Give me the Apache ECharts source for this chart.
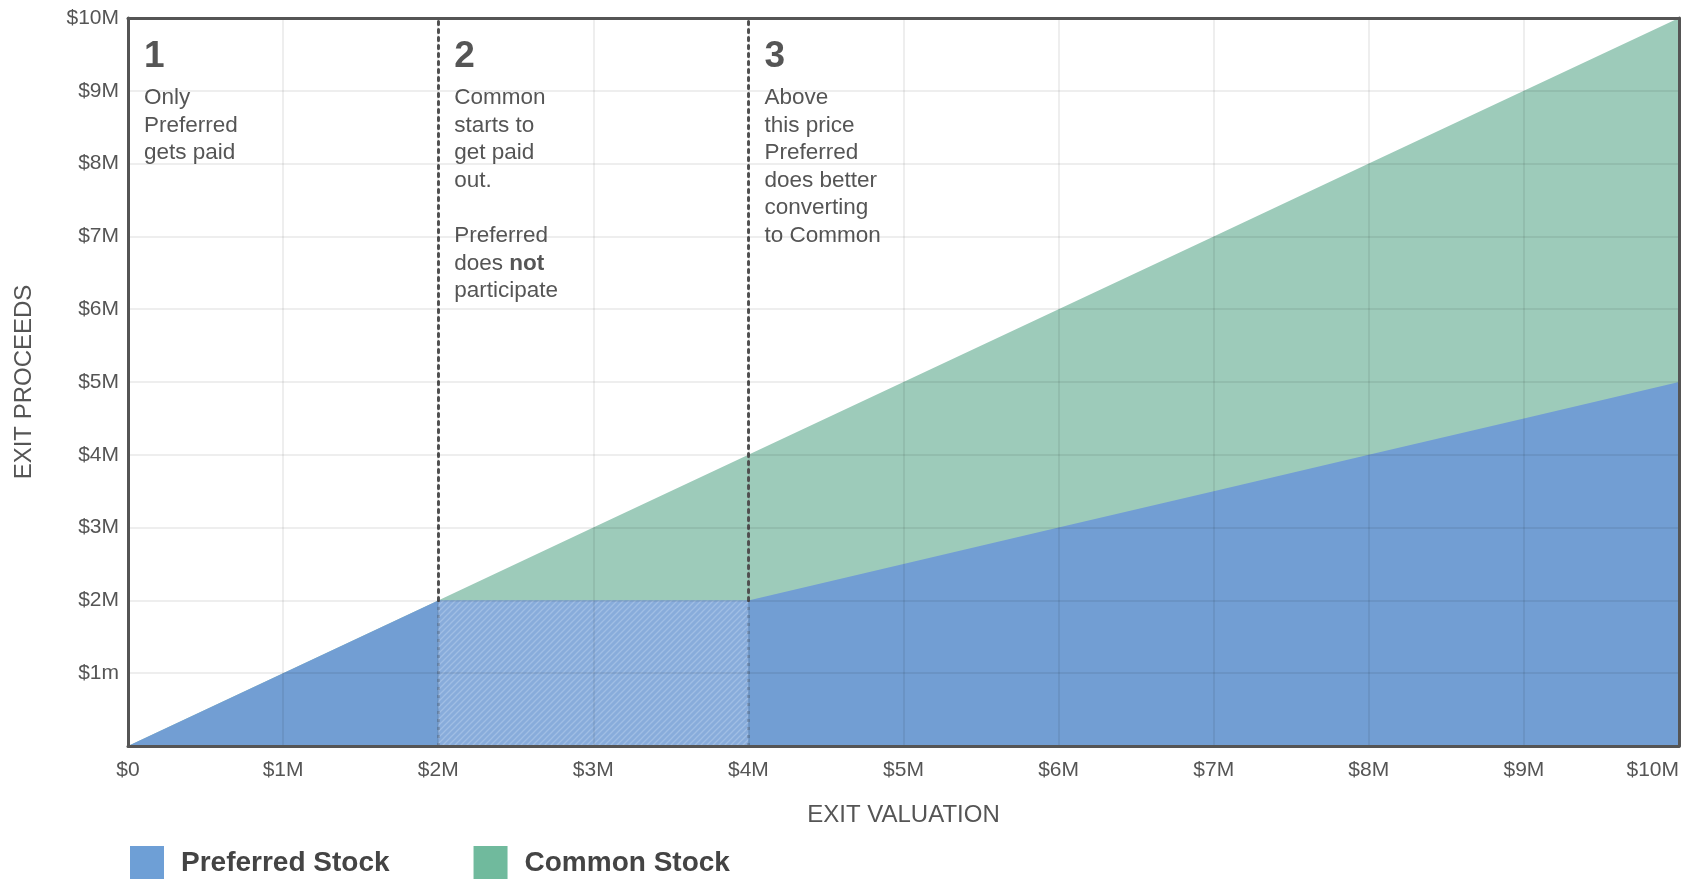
<!DOCTYPE html>
<html>
<head>
<meta charset="utf-8">
<title>Exit proceeds</title>
<script src="https://cdn.jsdelivr.net/npm/echarts@6/dist/echarts.min.js"></script>
<style>
  html, body { margin: 0; padding: 0; background: #fff; }
  #chart { width: 1685px; height: 879px; }
</style>
</head>
<body>
<div id="chart"></div>
<script>
// values in $M
var exitValuation = [0, 1, 2, 3, 4, 5, 6, 7, 8, 9, 10];
var preferredProceeds = [0, 1, 2, 2, 2, 2.5, 3, 3.5, 4, 4.5, 5];
var commonProceeds = [0, 0, 0, 1, 2, 2.5, 3, 3.5, 4, 4.5, 5];
var hatchRange = [2, 4];      // preferred does not participate
var preference = 2;           // liquidation preference
var xTickLabels = ['$0', '$1M', '$2M', '$3M', '$4M', '$5M', '$6M', '$7M', '$8M', '$9M', '$10M'];
var yTickLabels = ['', '$1m', '$2M', '$3M', '$4M', '$5M', '$6M', '$7M', '$8M', '$9M', '$10M'];

var notes = [
  { at: 0, num: '1', lines: ['Only', 'Preferred', 'gets paid'] },
  { at: 2, num: '2', lines: ['Common', 'starts to', 'get paid', 'out.', '', 'Preferred', 'does {b|not}', 'participate'] },
  { at: 4, num: '3', lines: ['Above', 'this price', 'Preferred', 'does better', 'converting', 'to Common'] }
];

var font = '"Liberation Sans", Arial, sans-serif';
var blue = '#729ed3';
var green = '#9dcbba';

function pairs(ys) {
  return exitValuation.map(function (x, i) { return [x, ys[i]]; });
}
// common sits on top of preferred
var topOfCommon = preferredProceeds.map(function (v, i) { return v + commonProceeds[i]; });

// striped fill for the hatched box
function stripes() {
  var s = 6;
  var c = document.createElement('canvas');
  c.width = s; c.height = s;
  var ctx = c.getContext('2d');
  ctx.fillStyle = '#88acdb';
  ctx.fillRect(0, 0, s, s);
  ctx.strokeStyle = '#a0bee4';
  ctx.lineWidth = 1.3;
  ctx.beginPath();
  ctx.moveTo(0, s); ctx.lineTo(s, 0);
  ctx.moveTo(-1, 1); ctx.lineTo(1, -1);
  ctx.moveTo(s - 1, s + 1); ctx.lineTo(s + 1, s - 1);
  ctx.stroke();
  return { image: c, repeat: 'repeat' };
}

var myChart = echarts.init(document.getElementById('chart'));

var labelStyle = { color: '#555', fontFamily: font, fontSize: 21 };
var frame = { color: '#555', width: 3 };
var option = {
  animation: false,
  grid: { left: 128, right: 6, top: 18, bottom: 133, outerBoundsMode: 'none', containLabel: false },
  legend: {
    left: 125,
    top: 841,
    icon: 'rect',
    itemWidth: 34,
    itemHeight: 34,
    itemGap: 84,
    selectedMode: false,
    textStyle: { color: '#444', fontFamily: font, fontSize: 28, fontWeight: 'bold', padding: [0, 0, 0, 12] },
    data: [
      { name: 'Preferred Stock', itemStyle: { color: '#6e9fd6' } },
      { name: 'Common Stock', itemStyle: { color: '#70ba9d' } }
    ]
  },
  xAxis: [{
    type: 'value',
    min: 0, max: 10, interval: 1,
    z: 10,
    name: 'EXIT VALUATION',
    nameLocation: 'middle',
    nameGap: 57,
    nameTextStyle: { color: '#555', fontFamily: font, fontSize: 24 },
    axisLine: { lineStyle: frame },
    axisTick: { show: false },
    axisLabel: Object.assign({ margin: 14, alignMaxLabel: 'right', formatter: function (v) { return xTickLabels[v]; } }, labelStyle),
    splitLine: { lineStyle: { color: 'rgba(0,0,0,0.09)', width: 1.5 } }
  }, {
    type: 'value', position: 'top', min: 0, max: 10, z: 10,
    axisLine: { show: true, onZero: false, lineStyle: frame },
    axisTick: { show: false }, axisLabel: { show: false }, splitLine: { show: false }
  }],
  yAxis: [{
    type: 'value',
    min: 0, max: 10, interval: 1,
    z: 10,
    name: 'EXIT PROCEEDS',
    nameLocation: 'middle',
    nameGap: 92,
    nameRotate: 90,
    nameTextStyle: { color: '#555', fontFamily: font, fontSize: 24 },
    axisLine: { show: true, lineStyle: frame },
    axisTick: { show: false },
    axisLabel: Object.assign({ margin: 9, formatter: function (v) { return yTickLabels[v]; } }, labelStyle),
    splitLine: { lineStyle: { color: 'rgba(0,0,0,0.09)', width: 1.5 } }
  }, {
    type: 'value', position: 'right', min: 0, max: 10, z: 10,
    axisLine: { show: true, onZero: false, lineStyle: frame },
    axisTick: { show: false }, axisLabel: { show: false }, splitLine: { show: false }
  }],
  series: [
    {
      name: 'Common Stock',
      type: 'line',
      z: 1,
      symbol: 'none',
      lineStyle: { width: 0 },
      areaStyle: { color: green, opacity: 1 },
      data: pairs(topOfCommon)
    },
    {
      name: 'Preferred Stock',
      type: 'line',
      z: 2,
      symbol: 'none',
      lineStyle: { width: 0 },
      areaStyle: { color: blue, opacity: 1 },
      data: pairs(preferredProceeds)
    },
    {
      name: 'hatch',
      type: 'line',
      z: 3,
      symbol: 'none',
      lineStyle: { width: 0 },
      areaStyle: { color: stripes(), opacity: 1 },
      data: [[hatchRange[0], preference], [hatchRange[1], preference]]
    },
    {
      name: 'dividers',
      type: 'line',
      z: 4,
      data: [],
      markLine: {
        silent: true,
        symbol: 'none',
        label: { show: false },
        data: [
          [{ coord: [hatchRange[0], preference], lineStyle: { color: '#555', type: [3, 5], width: 3, cap: 'round' } }, { coord: [hatchRange[0], 10] }],
          [{ coord: [hatchRange[1], preference], lineStyle: { color: '#555', type: [3, 5], width: 3, cap: 'round' } }, { coord: [hatchRange[1], 10] }],
          [{ coord: [hatchRange[0], 0], lineStyle: { color: 'rgba(60,60,60,0.22)', type: [3, 5], width: 3 } }, { coord: [hatchRange[0], preference] }],
          [{ coord: [hatchRange[1], 0], lineStyle: { color: 'rgba(60,60,60,0.22)', type: [3, 5], width: 3 } }, { coord: [hatchRange[1], preference] }]
        ]
      }
    }
  ]
};
myChart.setOption(option);

// region notes, anchored to the divider positions
var graphics = [];
notes.forEach(function (n) {
  var p = myChart.convertToPixel({ xAxisIndex: 0, yAxisIndex: 0 }, [n.at, 10]);
  var left = p[0] + 16;
  graphics.push({
    type: 'text', left: left, top: p[1] + 20,
    style: { text: n.num, fill: '#555', font: 'bold 37px ' + font }
  });
  graphics.push({
    type: 'text', left: left, top: p[1] + 66,
    style: {
      text: n.lines.join('\n'),
      fill: '#555',
      font: '22.5px ' + font,
      lineHeight: 27.6,
      rich: { b: { fontWeight: 'bold', fill: '#555', fontSize: 22.5, fontFamily: font, lineHeight: 27.6 } }
    }
  });
});
myChart.setOption({ graphic: graphics });
</script>
</body>
</html>
